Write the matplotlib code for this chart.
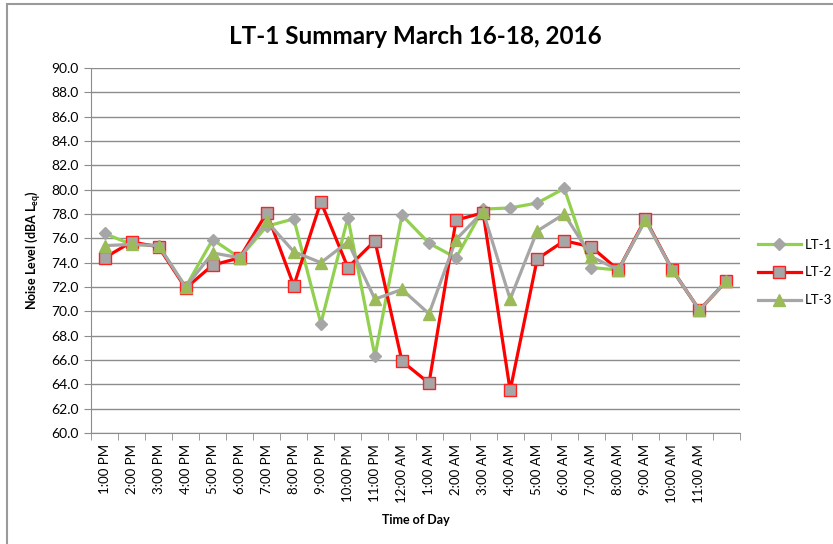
import numpy as np
import matplotlib
matplotlib.use("Agg")
import matplotlib.pyplot as plt
from matplotlib.patches import Rectangle

plt.rcParams['font.family'] = ['Lato', 'DejaVu Sans']

# hourly Leq readings, 1 PM on day 1 through 12 PM on day 3 (last slot unlabelled)
hours = ["1:00 PM", "2:00 PM", "3:00 PM", "4:00 PM", "5:00 PM", "6:00 PM",
         "7:00 PM", "8:00 PM", "9:00 PM", "10:00 PM", "11:00 PM", "12:00 AM",
         "1:00 AM", "2:00 AM", "3:00 AM", "4:00 AM", "5:00 AM", "6:00 AM",
         "7:00 AM", "8:00 AM", "9:00 AM", "10:00 AM", "11:00 AM", ""]

lt1 = [76.4, 75.5, 75.4, 72.0, 75.9, 74.4, 77.0, 77.6, 69.0, 77.7, 66.3, 77.9,
       75.6, 74.4, 78.4, 78.5, 78.9, 80.1, 73.6, 73.4, 77.5, 73.4, 70.1, 72.5]
lt2 = [74.4, 75.7, 75.3, 71.9, 73.8, 74.4, 78.1, 72.1, 79.0, 73.6, 75.8, 65.9,
       64.1, 77.5, 78.1, 63.5, 74.3, 75.8, 75.3, 73.4, 77.6, 73.4, 70.1, 72.5]
lt3 = [75.4, 75.5, 75.4, 72.0, 74.8, 74.4, 77.4, 74.9, 74.0, 75.7, 71.0, 71.8,
       69.8, 75.9, 78.2, 71.0, 76.6, 78.0, 74.5, 73.4, 77.5, 73.4, 70.1, 72.5]

W, H = 833, 544
fig = plt.figure(figsize=(W / 100, H / 100), dpi=100)
ax = fig.add_axes([91 / W, 1 - 433 / H, (740 - 91) / W, (433 - 68) / H])

# chart border (Excel chart area)
fig.patches.append(Rectangle((7 / W, -0.05), 1.0, 1 - 4 / H + 0.05,
                             transform=fig.transFigure, fill=False,
                             edgecolor='#9a9a9a', linewidth=1.5))

x = np.arange(len(hours))
grey = '#a6a6a6'

ax.plot(x, lt1, color='#92d050', lw=2.3, marker='D', ms=6.5,
        mfc=grey, mec=grey, label='LT-1', zorder=3)
ax.plot(x, lt2, color='#ff0000', lw=2.3, marker='s', ms=8.5,
        mfc=grey, mec='#ff2020', mew=1.0, label='LT-2', zorder=4)
ax.plot(x, lt3, color=grey, lw=2.3, marker='^', ms=8.5,
        mfc='#9bbb59', mec='#9bbb59', label='LT-3', zorder=5)

ax.set_xlim(-0.5, len(hours) - 0.5)
ax.set_ylim(60, 90)
ax.set_yticks(np.arange(60, 90.1, 2))
ax.set_yticklabels(["%.1f" % v for v in np.arange(60, 90.1, 2)], fontsize=10)
ax.yaxis.grid(True, color='#8c8c8c', lw=1.0)
ax.set_axisbelow(True)

ax.set_xticks(x)
ax.set_xticklabels(hours, rotation=90, fontsize=9.5)
ax.set_xticks(np.arange(-0.5, len(hours), 1), minor=True)
ax.tick_params(axis='x', which='major', length=0, pad=8)
ax.tick_params(axis='x', which='minor', length=5, color='#8c8c8c')
ax.tick_params(axis='y', length=5, color='#8c8c8c', pad=4)

for s in ['top', 'right']:
    ax.spines[s].set_visible(False)
for s in ['left', 'bottom']:
    ax.spines[s].set_color('#8c8c8c')

ax.set_title("LT-1 Summary March 16-18, 2016", fontsize=17.5, fontweight='bold',
             pad=17)
ax.set_xlabel("Time of Day", fontsize=9, fontweight='bold', labelpad=8)
ax.set_ylabel(r"Noise Level (dBA L$_{\mathregular{eq}}$)", fontsize=9,
              fontweight='bold', labelpad=6)

ax.legend(loc='center left', bbox_to_anchor=(1.01, 0.44), frameon=False,
          fontsize=9.5, handlelength=3.2, labelspacing=1.2, handletextpad=0.3)

fig.savefig("out.png", dpi=100)
